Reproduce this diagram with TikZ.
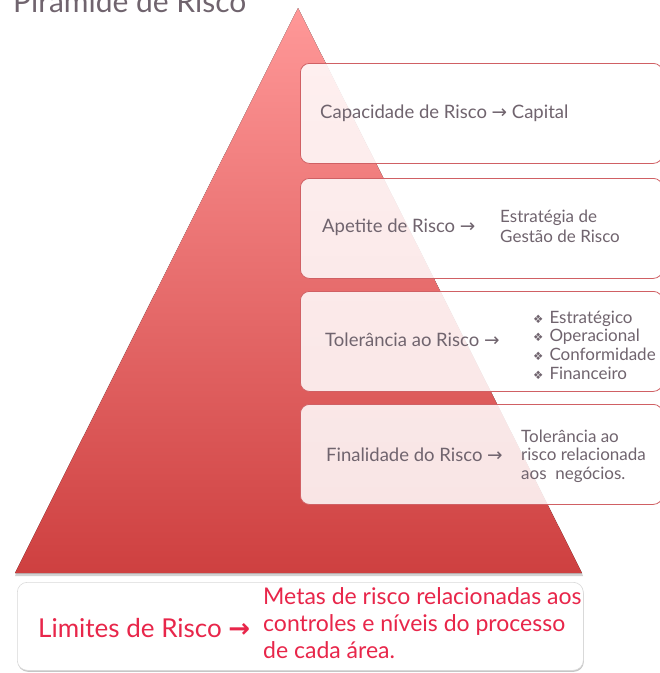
\documentclass[tikz,border=0pt]{standalone}
\usepackage{fontspec}
\setmainfont{Lato}
\newfontfamily\dejavu{DejaVu Sans}
\usetikzlibrary{shadows,positioning}
\definecolor{txtgray}{RGB}{112,100,110}
\definecolor{boxred}{RGB}{208,96,100}
\definecolor{limred}{RGB}{232,38,74}
\definecolor{pyrtop}{RGB}{255,152,152}
\definecolor{pyrbot}{RGB}{206,64,64}
\newcommand{\arr}{{\dejavu\char"2192}}
\newcommand{\bul}{{\dejavu\fontsize{11.5}{12}\selectfont\char"2756}\hspace{6pt}}
\tikzset{
  levelbox/.style={draw=boxred, line width=0.8pt, rounded corners=9pt, fill=white, fill opacity=0.86,
    minimum width=362pt, minimum height=100pt, anchor=north west, inner sep=0pt},
  lbl/.style={text=txtgray, font=\fontsize{18.5}{22}\selectfont, anchor=west, inner sep=0pt, align=left},
  rlbl/.style={text=txtgray, font=\fontsize{17}{18.7}\selectfont, anchor=west, inner sep=0pt, align=left},
  limlbl/.style={text=limred, anchor=west, inner sep=0pt, align=left}
}
\begin{document}
\begin{tikzpicture}[x=1pt,y=1pt]
\useasboundingbox (0,0) rectangle (660,-673);
\clip (0,0) rectangle (660,-673);
% pyramid
\fill[gray!35] (16,-573) -- (582,-573) -- (583,-576) -- (15,-576) -- cycle;
\fill[top color=pyrtop, bottom color=pyrbot] (298,-8) -- (582,-573) -- (15,-573) -- cycle;
% title
\node (title) [text=txtgray, anchor=base west, inner sep=0pt, font=\fontsize{30}{34}\selectfont] at (13,-12) {Pirâmide de Risco};
% level boxes
\node (b1) [levelbox] at (300,-63) {};
\node (b2) [levelbox] at (300,-178) {};
\node (b3) [levelbox] at (300,-291) {};
\node (b4) [levelbox] at (300,-404) {};
% labels
\node (t1) [lbl] at (320,-113) {Capacidade de Risco \arr\ Capital};
\node (t2) [lbl] at (322,-227) {Apetite de Risco \arr};
\node (r2) [rlbl, font=\fontsize{17}{20}\selectfont] at (500,-226) {Estratégia de\\Gestão de Risco};
\node (t3) [lbl] at (325,-340) {Tolerância ao Risco \arr};
\node (r3) [rlbl] at (533,-345) {\bul Estratégico\\\bul Operacional\\\bul Conformidade\\\bul Financeiro};
\node (t4) [lbl] at (326,-455) {Finalidade do Risco \arr};
\node (r4) [rlbl] at (521,-456) {Tolerância ao\\risco relacionada\\aos\ \ negócios.};
% limits box
\node (lim) [draw=black!15, line width=0.6pt, rounded corners=10pt, fill=white,
  drop shadow={shadow xshift=0.5pt, shadow yshift=-1.5pt, opacity=0.45},
  minimum width=566pt, minimum height=88pt, anchor=north west] at (17,-582) {};
\node (l1) [limlbl, font=\fontsize{26}{30}\selectfont] at (38,-628) {Limites de Risco \textbf{\arr}};
\node (l2) [limlbl, font=\fontsize{23}{27}\selectfont] at (263,-623) {Metas de risco relacionadas aos\\controles e níveis do processo\\de cada área.};
\end{tikzpicture}
\end{document}
